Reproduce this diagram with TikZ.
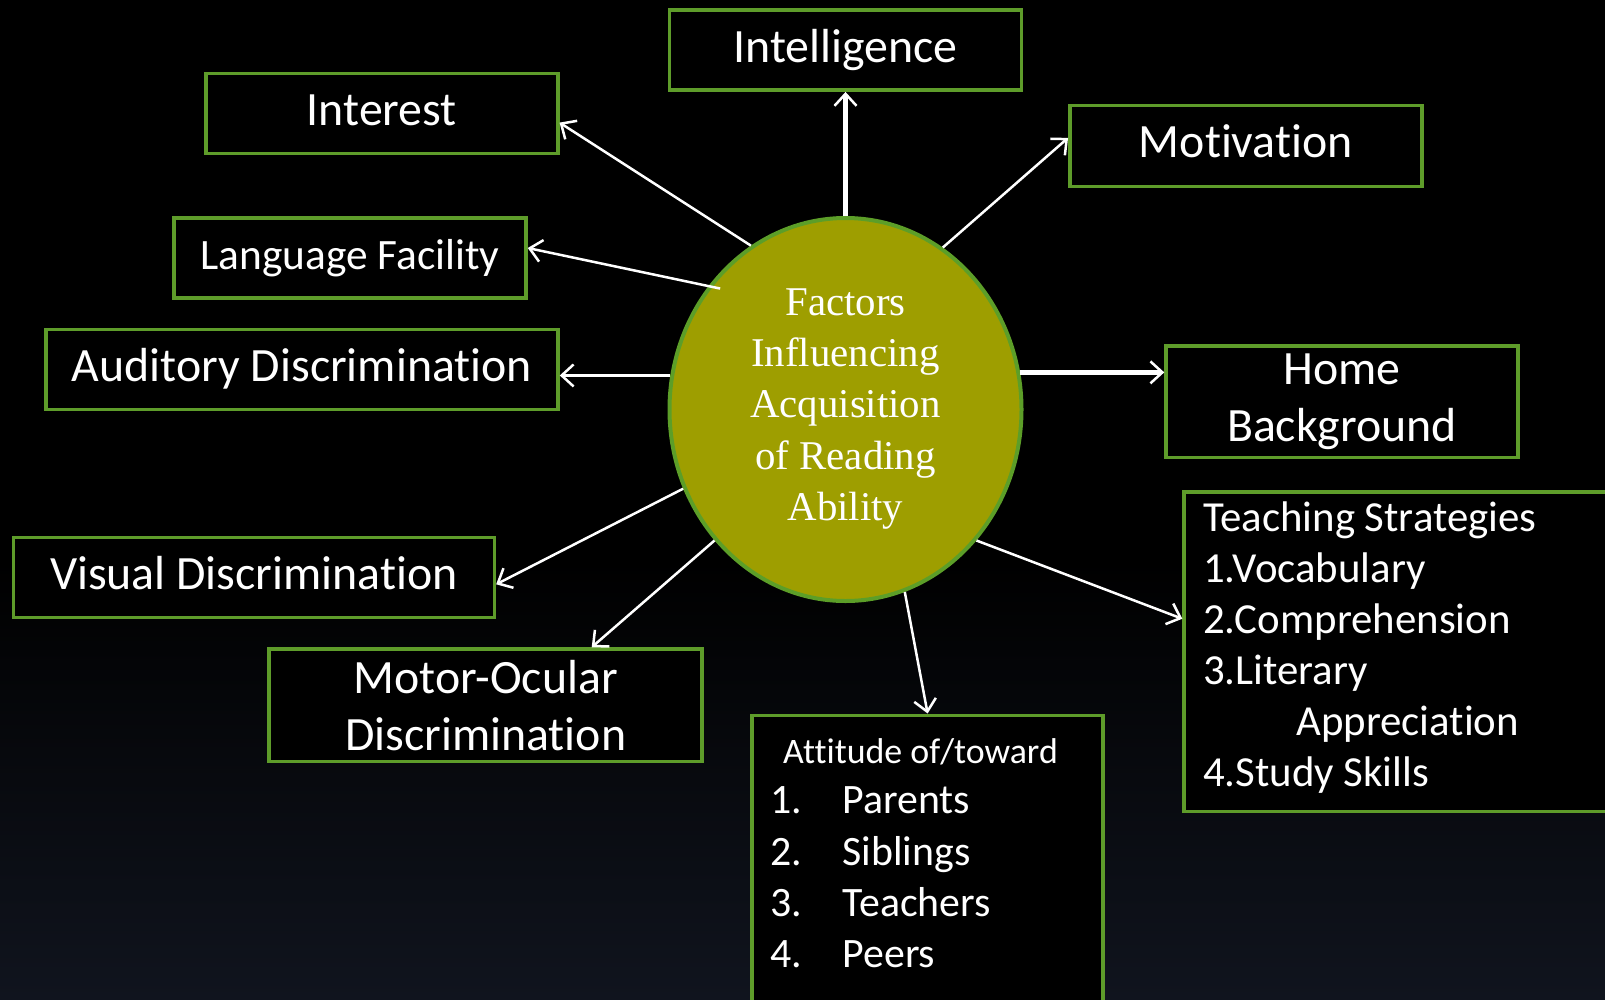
\documentclass[tikz,border=0pt]{standalone}
\usepackage{fontspec}
\setmainfont{Liberation Serif}
\newfontfamily\boxfont[Ligatures={NoCommon,NoRare}]{Carlito}
\usetikzlibrary{arrows.meta,shapes.geometric,calc}
\definecolor{boxgreen}{RGB}{94,156,42}
\definecolor{ringgreen}{RGB}{92,158,40}
\definecolor{olivefill}{RGB}{158,158,0}
\definecolor{bgnavy}{RGB}{16,20,30}
\tikzset{
  fbox/.style={draw=boxgreen, line width=3.5bp, fill=black, inner sep=0pt, text=white},
  oneline/.style={fbox, font=\boxfont\fontsize{48}{57}\selectfont, text height=34bp, text depth=10bp},
  twoline/.style={fbox, align=center, font=\boxfont\fontsize{48}{57}\selectfont},
  listtext/.style={text=white, inner sep=0pt, anchor=base west},
  arr/.style={draw=white, line width=2.5bp, -{Straight Barb[length=12bp,width=22bp,line width=2.5bp]}},
  thickarr/.style={line width=4.5bp}
}
\begin{document}
\begin{tikzpicture}[x=1bp,y=-1bp]
\useasboundingbox (0,0) rectangle (1605,999);
\clip (0,0) rectangle (1605,999);
\fill[black] (0,0) rectangle (1605,999);
\shade[top color=black, bottom color=bgnavy] (0,560) rectangle (1605,999);

% boxes
\node[oneline, minimum width=352bp, minimum height=80bp] (intel) at (845.5,50.2) {Intelligence};
\node[oneline, minimum width=352bp, minimum height=80bp] (interest) at (381.8,113.6) {Interest};
\node[oneline, minimum width=352bp, minimum height=81bp] (motiv) at (1245.8,145.9) {Motivation};
\node[oneline, minimum width=352bp, minimum height=80bp, font=\boxfont\fontsize{43.5}{52}\selectfont, text height=31bp, text depth=9bp] (lang) at (350,258) {Language Facility};
\node[oneline, minimum width=512bp, minimum height=80bp] (aud) at (302,369.5) {Auditory Discrimination};
\node[twoline, minimum width=352bp, minimum height=111.6bp] (home) at (1342,401.8) {Home\\Background};
\node[oneline, minimum width=481bp, minimum height=80bp] (visual) at (253.9,577.3) {Visual Discrimination};
\node[twoline, minimum width=433bp, minimum height=112.6bp] (motor) at (485.7,705.3) {Motor-Ocular\\Discrimination};
\node[fbox, anchor=north west, minimum width=440bp, minimum height=319.4bp] (ts) at (1182.3,490.3) {};
\node[fbox, anchor=north west, minimum width=351.1bp, minimum height=300bp] (att) at (750.3,713.5) {};

% teaching strategies text
\begin{scope}[font=\boxfont\fontsize{43}{51}\selectfont]
\node[listtext] (ts0) at (1203,531.7) {Teaching Strategies};
\node[listtext] (ts1) at (1203,582) {1.Vocabulary};
\node[listtext] (ts2) at (1203,633) {2.Comprehension};
\node[listtext] (ts3) at (1203,684) {3.Literary};
\node[listtext] (ts4) at (1296,735) {Appreciation};
\node[listtext] (ts5) at (1203,786) {4.Study Skills};
\end{scope}

% attitude text
\node[listtext, font=\boxfont\fontsize{36}{43}\selectfont] (at0) at (783,763) {Attitude of/toward};
\begin{scope}[font=\boxfont\fontsize{42}{51}\selectfont]
\node[listtext] (at1) at (770,813) {\makebox[72.4bp][l]{1.}Parents};
\node[listtext] (at2) at (770,865) {\makebox[72.4bp][l]{2.}Siblings};
\node[listtext] (at3) at (770,916) {\makebox[72.4bp][l]{3.}Teachers};
\node[listtext] (at4) at (770,967.5) {\makebox[72.4bp][l]{4.}Peers};
\end{scope}

% central ellipse
\node[ellipse, draw=ringgreen, line width=4bp, fill=olivefill, minimum width=352bp, minimum height=383bp, inner sep=0pt] (c) at (845.5,409.5) {};
\node[text=white, align=center, inner sep=0pt, font=\fontsize{41}{51.4}\selectfont] (ctext) at (845.5,409) {Factors\\Influencing\\Acquisition\\of Reading\\Ability};

% connectors
\draw[arr, thickarr] (c.north) -- (intel.south);
\draw[arr] (c.120.9) -- ([yshift=-9bp]interest.east);
\draw[arr] (c.59.1) -- ([yshift=8bp]motiv.west);
\draw[arr, shorten <=-12bp] (c.138.7) -- ([yshift=10bp]lang.east);
\draw[arr] (c.169.8) -- (c.169.8 -| aud.east);
\draw[arr, thickarr] (c.12.5) -- (c.12.5 -| home.west);
\draw[arr] (c.-45) -- ([yshift=33bp]ts.west);
\draw[arr] (c.206.7) -- ([yshift=-7bp]visual.east);
\draw[arr] (c.225.2) -- ([xshift=106bp]motor.north);
\draw[arr] (c.288.4) -- (att.north);
\end{tikzpicture}
\end{document}
